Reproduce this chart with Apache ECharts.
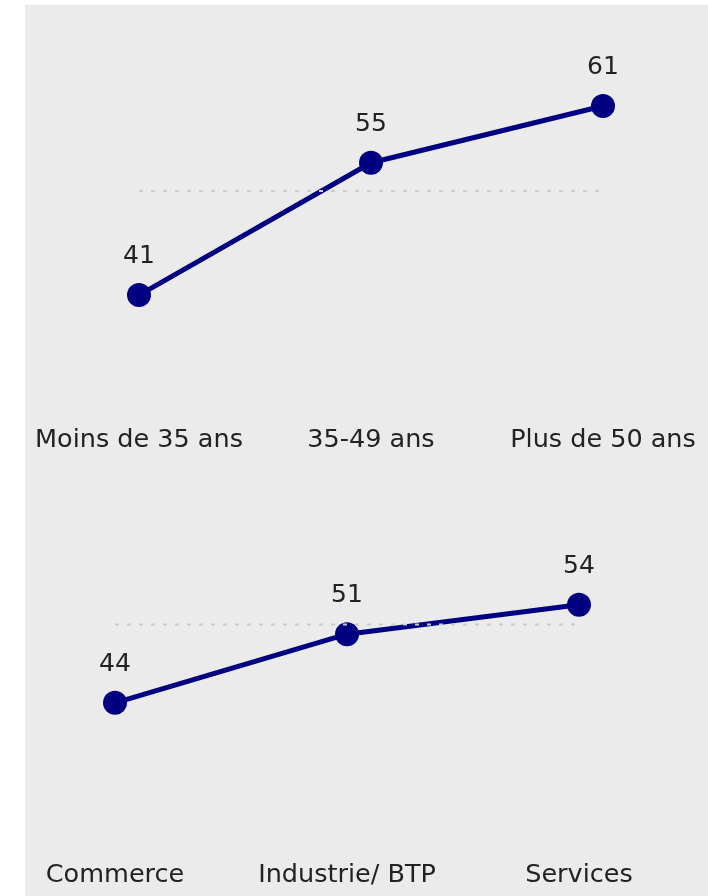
<!DOCTYPE html>
<html><head><meta charset="utf-8">
<script src="https://cdn.jsdelivr.net/npm/echarts@6/dist/echarts.min.js"></script>
<style>html,body{margin:0;padding:0;background:#fff}#c{width:708px;height:896px}</style>
</head><body><div id="c"></div>
<script>
const ageCategories = ['Moins de 35 ans', '35-49 ans', 'Plus de 50 ans'];
const ageValues = [41, 55, 61];
const sectorCategories = ['Commerce', 'Industrie/ BTP', 'Services'];
const sectorValues = [44, 51, 54];
const referenceValue = 52;

const FONT = 'DejaVu Sans';
const TXT = '#222222';
const NAVY = '#000080';

function mainSeries(i, data) {
  return {
    type: 'line', xAxisIndex: i, yAxisIndex: i, data: data,
    symbol: 'circle', symbolSize: 24,
    lineStyle: { color: NAVY, width: 5 },
    itemStyle: { color: NAVY },
    label: { show: true, position: 'top', distance: 14, fontFamily: FONT, fontSize: 25, color: TXT },
    z: 2, animation: false
  };
}
function refSeries(i, n) {
  return {
    type: 'line', xAxisIndex: i, yAxisIndex: i,
    data: new Array(n).fill(referenceValue),
    symbol: 'none', silent: true,
    lineStyle: { color: '#cccccc', width: 2, type: [4, 8] },
    z: 3, animation: false
  };
}
function xAx(i, cats, margin) {
  return {
    type: 'category', gridIndex: i, data: cats, boundaryGap: false,
    axisLine: { show: false }, axisTick: { show: false },
    axisLabel: { fontFamily: FONT, fontSize: 25.5, color: TXT, margin: margin, interval: 0 }
  };
}
function yAx(i) {
  return { type: 'value', gridIndex: i, min: 30, max: 70, show: false, splitLine: { show: false } };
}

const chart = echarts.init(document.getElementById('c'), null, { renderer: 'canvas' });
chart.setOption({
  backgroundColor: '#ffffff',
  animation: false,
  graphic: [{ type: 'rect', shape: { x: 25, y: 5, width: 700, height: 900 }, style: { fill: '#ebebeb' }, z: -10, silent: true }],
  grid: [
    { left: 139, right: 105, top: 21, height: 378 },
    { left: 115, right: 129, top: 448, height: 392 }
  ],
  xAxis: [xAx(0, ageCategories, 28), xAx(1, sectorCategories, 22)],
  yAxis: [yAx(0), yAx(1)],
  series: [
    mainSeries(0, ageValues), refSeries(0, ageCategories.length),
    mainSeries(1, sectorValues), refSeries(1, sectorCategories.length)
  ]
});
</script></body></html>
